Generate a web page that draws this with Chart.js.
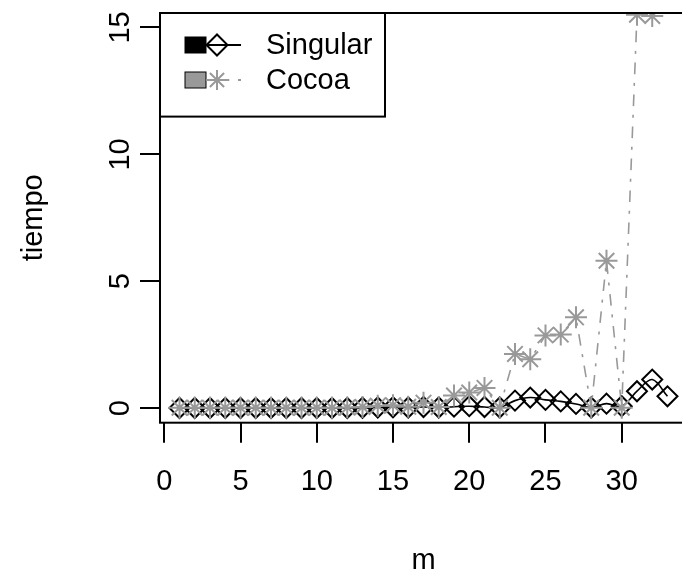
<!DOCTYPE html>
<html>
<head>
<meta charset="utf-8">
<script src="https://cdn.jsdelivr.net/npm/chart.js@4"></script>
<style>
  html, body { margin: 0; padding: 0; background: #fff; overflow: hidden; }
  #wrap { width: 682px; height: 578px; overflow: hidden; }
</style>
</head>
<body>
<div id="wrap"><canvas id="chart" width="700" height="578"></canvas></div>
<script>
// data
var m = [1, 2, 3, 4, 5, 6, 7, 8, 9, 10, 11, 12, 13, 14, 15, 16, 17, 18, 19, 20,
         21, 22, 23, 24, 25, 26, 27, 28, 29, 30, 31, 32, 33];
var singular = [0.01, 0.01, 0.01, 0.01, 0.01, 0.01, 0.01, 0.01, 0.01, 0.01, 0.01,
                0.01, 0.02, 0.03, 0.04, 0.03, 0.05, 0.03, 0.06, 0.08, 0.05, 0.03,
                0.3, 0.42, 0.33, 0.27, 0.17, 0.03, 0.18, 0.08, 0.67, 1.13, 0.47];
var cocoa = [0.02, 0.02, 0.02, 0.02, 0.02, 0.02, 0.02, 0.02, 0.02, 0.02, 0.02,
             0.03, 0.05, 0.1, 0.12, 0.06, 0.22, 0.05, 0.5, 0.62, 0.8, 0.02,
             2.14, 1.93, 2.87, 2.9, 3.58, 0.02, 5.81, 0.02, 15.5, 15.45];
var xTicks = [0, 5, 10, 15, 20, 25, 30];
var yTicks = [0, 5, 10, 15];
var seriesNames = ['Singular', 'Cocoa'];

var FONT = '"Liberation Sans", Arial, Helvetica, sans-serif';
var GREY = '#999999';

function pts(ys) {
    return ys.map(function (v, i) { return { x: m[i], y: v }; });
}

// frame, y tick labels and the legend (R style)
var extras = {
    id: 'extras',
    afterDatasetsDraw: function (chart) {
        var c = chart.ctx, a = chart.chartArea;
        c.save();
        // box
        c.strokeStyle = '#000';
        c.lineWidth = 2;
        c.strokeRect(a.left, a.top, a.right - a.left, a.bottom - a.top);

        // y tick labels, rotated like R
        var ys = chart.scales.y;
        c.fillStyle = '#000';
        c.font = '29px ' + FONT;
        c.textAlign = 'center';
        c.textBaseline = 'alphabetic';
        yTicks.forEach(function (v) {
            c.save();
            c.translate(129, ys.getPixelForValue(v));
            c.rotate(-Math.PI / 2);
            c.fillText(String(v), 0, 0);
            c.restore();
        });

        // legend
        var lx = a.left, ly = a.top, lw = 225, lh = 103.6;
        c.fillStyle = '#fff';
        c.fillRect(lx, ly, lw, lh);
        c.strokeRect(lx, ly, lw, lh);
        var rows = [
            { y: 45, fill: '#000', col: '#000', style: 'rectRot', dash: [] },
            { y: 80, fill: GREY, col: GREY, style: 'star', dash: [3, 8.7, 11.6, 8.7] }
        ];
        rows.forEach(function (r, i) {
            c.fillStyle = r.fill;
            c.fillRect(185, r.y - 8, 21, 16);
            c.lineWidth = 1;
            c.strokeStyle = '#000';
            c.strokeRect(185, r.y - 8, 21, 16);
            c.lineWidth = 2;
            c.strokeStyle = r.col;
            c.setLineDash(r.dash);
            c.beginPath();
            c.moveTo(206, r.y);
            c.lineTo(241, r.y);
            c.stroke();
            c.setLineDash([]);
            c.fillStyle = 'rgba(0,0,0,0)';
            Chart.helpers.drawPoint(c, {
                pointStyle: r.style, radius: i === 0 ? 10.5 : 10,
                borderWidth: 2, rotation: 0
            }, 217, r.y);
            c.fillStyle = '#000';
            c.font = '29px ' + FONT;
            c.textAlign = 'left';
            c.textBaseline = 'middle';
            c.fillText(seriesNames[i], 266, r.y + 1);
        });
        c.restore();
    }
};

var ctx = document.getElementById('chart').getContext('2d');
var chart = new Chart(ctx, {
    type: 'line',
    data: {
        datasets: [{
            label: seriesNames[1],
            data: pts(cocoa),
            order: 0,
            borderColor: GREY,
            borderWidth: 1.6,
            borderDash: [3, 8.7, 11.6, 8.7],
            pointStyle: 'star',
            pointRadius: 11,
            pointBorderWidth: 2,
            pointBorderColor: GREY,
            pointBackgroundColor: GREY,
            tension: 0,
            fill: false
        }, {
            label: seriesNames[0],
            data: pts(singular),
            order: 1,
            borderColor: '#000',
            borderWidth: 1.6,
            pointStyle: 'rectRot',
            pointRadius: 10,
            pointBorderWidth: 2,
            pointBorderColor: '#000',
            pointBackgroundColor: 'rgba(0,0,0,0)',
            tension: 0.35,
            fill: false
        }]
    },
    options: {
        responsive: false,
        animation: false,
        devicePixelRatio: 1,
        layout: { padding: { top: 10.7, right: 10.5, bottom: 0, left: 0 } },
        plugins: {
            legend: { display: false },
            tooltip: { enabled: false }
        },
        scales: {
            x: {
                type: 'linear',
                min: -0.28,
                max: 34.28,
                afterFit: function (s) { s.height = 155.3; },
                afterBuildTicks: function (s) {
                    s.ticks = xTicks.map(function (v) { return { value: v }; });
                },
                border: { display: false },
                grid: { drawOnChartArea: false, tickLength: 20, color: '#000', lineWidth: 2 },
                ticks: {
                    color: '#000',
                    font: { family: FONT, size: 29 },
                    padding: 22,
                    maxRotation: 0,
                    autoSkip: false
                },
                title: {
                    display: true,
                    text: 'm',
                    color: '#000',
                    font: { family: FONT, size: 29 },
                    padding: { top: 0, bottom: 0 }
                }
            },
            y: {
                type: 'linear',
                min: -0.57,
                max: 15.57,
                afterFit: function (s) { s.width = 160; },
                afterBuildTicks: function (s) {
                    s.ticks = yTicks.map(function (v) { return { value: v }; });
                },
                border: { display: false },
                grid: { drawOnChartArea: false, tickLength: 20, color: '#000', lineWidth: 2 },
                ticks: { display: false },
                title: {
                    display: true,
                    text: 'tiempo',
                    color: '#000',
                    font: { family: FONT, size: 29 },
                    padding: { top: 17, bottom: 0 }
                }
            }
        }
    },
    plugins: [extras]
});
</script>
</body>
</html>
